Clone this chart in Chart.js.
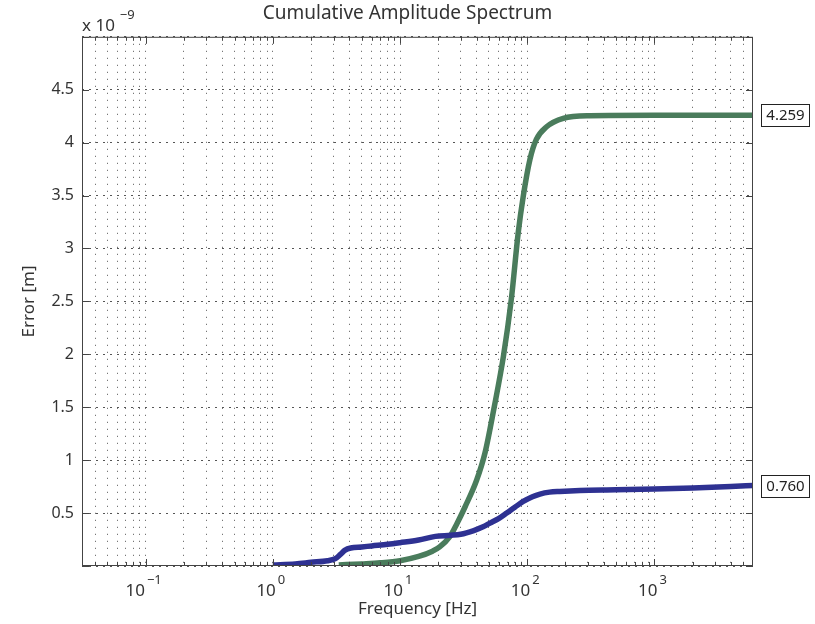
<!DOCTYPE html>
<html>
<head>
<meta charset="utf-8">
<script src="https://cdn.jsdelivr.net/npm/chart.js@4.4.0/dist/chart.umd.min.js"></script>
<style>
  html, body { margin: 0; padding: 0; background: #fff; }
  #wrap { width: 815px; height: 624px; }
</style>
</head>
<body>
<div id="wrap"><canvas id="myChart" width="815" height="624"></canvas></div>
<script>
// data (error in units of 1e-9 m)
var blueFreq = [1, 1.5, 2, 2.7, 3.1, 3.4, 3.7, 4.1, 5, 6, 8, 10, 14, 19, 25, 30, 38, 45, 51, 60, 69, 80, 93, 110, 126, 150, 180, 260, 500, 1000, 2000, 4000, 5960];
var blueErr  = [0.01, 0.02, 0.035, 0.05, 0.07, 0.11, 0.15, 0.17, 0.18, 0.19, 0.205, 0.22, 0.245, 0.28, 0.29, 0.3, 0.335, 0.37, 0.405, 0.45, 0.5, 0.555, 0.61, 0.655, 0.68, 0.698, 0.705, 0.714, 0.72, 0.728, 0.738, 0.752, 0.76];

var greenFreq = [3.3, 5, 7, 10, 14, 18, 20.5, 24.7, 28, 32.5, 40, 46.6, 55, 65, 75, 85, 93, 105, 118, 142, 192, 310, 1000, 5960];
var greenErr  = [0.01, 0.02, 0.03, 0.05, 0.09, 0.14, 0.18, 0.28, 0.4, 0.56, 0.81, 1.07, 1.5, 1.98, 2.52, 3.15, 3.49, 3.84, 4.03, 4.15, 4.23, 4.255, 4.259, 4.259];

var endLabels = ['0.760', '4.259'];

var xMin = 0.0316, xMax = 5960;
var xMajorTicks = [0.1, 1, 10, 100, 1000];
var xMajorExp = ['\u22121', '0', '1', '2', '3'];
var yTicks = [0, 0.5, 1, 1.5, 2, 2.5, 3, 3.5, 4, 4.5, 5];

var FONT = '"Noto Sans", "DejaVu Sans", sans-serif';
var TXT = '#333';

// all decade sub-ticks (1..9 x 10^k) inside the range
var xGridTicks = [];
for (var k = -2; k <= 3; k++) {
  for (var m = 1; m <= 9; m++) {
    var v = m * Math.pow(10, k);
    if (v >= xMin && v <= xMax) xGridTicks.push(+v.toPrecision(6));
  }
}

function pts(xs, ys) {
  return xs.map(function (x, i) { return { x: x, y: ys[i] }; });
}

var framePlugin = {
  id: 'frame',
  afterDatasetsDraw: function (chart) {
    var c = chart.ctx, a = chart.chartArea;
    var xs = chart.scales.x, ys = chart.scales.y;
    c.save();
    c.strokeStyle = '#444';
    c.lineWidth = 1;
    c.strokeRect(a.left + 0.5, a.top + 0.5, a.right - a.left - 1, a.bottom - a.top - 1);
    // inward tick marks
    c.beginPath();
    xGridTicks.forEach(function (v) {
      var px = Math.round(xs.getPixelForValue(v)) + 0.5;
      var len = xMajorTicks.indexOf(v) >= 0 ? 7 : 4;
      c.moveTo(px, a.bottom); c.lineTo(px, a.bottom - len);
      c.moveTo(px, a.top); c.lineTo(px, a.top + len);
    });
    yTicks.forEach(function (v) {
      var py = Math.round(ys.getPixelForValue(v)) + 0.5;
      c.moveTo(a.left, py); c.lineTo(a.left + 7, py);
      c.moveTo(a.right, py); c.lineTo(a.right - 7, py);
    });
    c.stroke();

    c.fillStyle = TXT;
    c.textBaseline = 'alphabetic';

    // x tick labels 10^n with raised exponent
    xMajorTicks.forEach(function (v, i) {
      var px = xs.getPixelForValue(v);
      c.font = '17px ' + FONT;
      var wb = c.measureText('10').width;
      c.font = '13px ' + FONT;
      var we = c.measureText(xMajorExp[i]).width;
      var x0 = px - (wb + 2 + we) / 2 - 2;
      c.textAlign = 'left';
      c.font = '17px ' + FONT;
      c.fillText('10', x0, a.bottom + 30);
      c.font = '13px ' + FONT;
      c.fillText(xMajorExp[i], x0 + wb + 2, a.bottom + 18);
    });

    // x 10^-9 multiplier
    c.textAlign = 'left';
    c.font = '17px ' + FONT;
    c.fillText('x 10', a.left, a.top - 6);
    var w = c.measureText('x 10').width;
    c.font = '13px ' + FONT;
    c.fillText('\u22129', a.left + w + 5, a.top - 18);

    // end value boxes
    c.font = '15px ' + FONT;
    c.textAlign = 'center';
    c.textBaseline = 'middle';
    chart.data.datasets.forEach(function (ds, i) {
      var last = ds.data[ds.data.length - 1];
      var py = ys.getPixelForValue(last.y);
      var bx = a.right + 8, bw = 48, bh = 22;
      c.fillStyle = '#fff';
      c.fillRect(bx, py - bh / 2, bw, bh);
      c.strokeStyle = '#222';
      c.strokeRect(bx + 0.5, Math.round(py - bh / 2) + 0.5, bw, bh);
      c.fillStyle = '#222';
      c.fillText(endLabels[i], bx + bw / 2 + 0.5, py + 1);
    });
    c.restore();
  }
};

var ctx = document.getElementById('myChart');
var myChart = new Chart(ctx, {
  type: 'line',
  data: {
    datasets: [{
      label: 'Blue',
      data: pts(blueFreq, blueErr),
      borderColor: '#2e3192',
      borderWidth: 5.5,
      pointRadius: 0,
      cubicInterpolationMode: 'monotone',
      fill: false
    }, {
      label: 'Green',
      data: pts(greenFreq, greenErr),
      borderColor: '#4a7c5c',
      borderWidth: 5.5,
      pointRadius: 0,
      cubicInterpolationMode: 'monotone',
      fill: false
    }]
  },
  options: {
    responsive: false,
    animation: false,
    layout: { padding: 0 },
    plugins: {
      legend: { display: false },
      tooltip: { enabled: false },
      title: {
        display: true,
        text: 'Cumulative Amplitude Spectrum',
        color: TXT,
        font: { family: FONT, size: 19, weight: 'normal' },
        padding: { top: 2, bottom: 12 }
      }
    },
    scales: {
      x: {
        type: 'logarithmic',
        min: xMin,
        max: xMax,
        afterBuildTicks: function (scale) {
          scale.ticks = xGridTicks.map(function (v) { return { value: v }; });
        },
        afterFit: function (scale) { scale.height = 58; },
        ticks: {
          autoSkip: false,
          maxRotation: 0,
          callback: function () { return ''; }
        },
        grid: {
          drawTicks: false,
          color: '#555',
          lineWidth: 1
        },
        border: { display: false, dash: [1, 6] },
        title: {
          display: true,
          text: 'Frequency [Hz]',
          color: TXT,
          font: { family: FONT, size: 17 },
          padding: { top: 0, bottom: 5 }
        }
      },
      y: {
        min: 0,
        max: 5,
        afterBuildTicks: function (scale) {
          scale.ticks = yTicks.map(function (v) { return { value: v }; });
        },
        afterFit: function (scale) { scale.width = 82; },
        ticks: {
          padding: 8,
          color: TXT,
          font: { family: FONT, size: 16 },
          callback: function (value) {
            return (value === 0 || value === 5) ? '' : String(value);
          }
        },
        grid: {
          drawTicks: false,
          color: '#555',
          lineWidth: 1
        },
        border: { display: false, dash: [2, 5] },
        title: {
          display: true,
          text: 'Error [m]',
          color: TXT,
          font: { family: FONT, size: 17 },
          padding: { top: 19, bottom: 0 }
        }
      },
      yRight: {
        position: 'right',
        afterFit: function (scale) { scale.width = 62; },
        ticks: { display: false },
        grid: { display: false },
        border: { display: false }
      }
    }
  },
  plugins: [framePlugin]
});
</script>
</body>
</html>
